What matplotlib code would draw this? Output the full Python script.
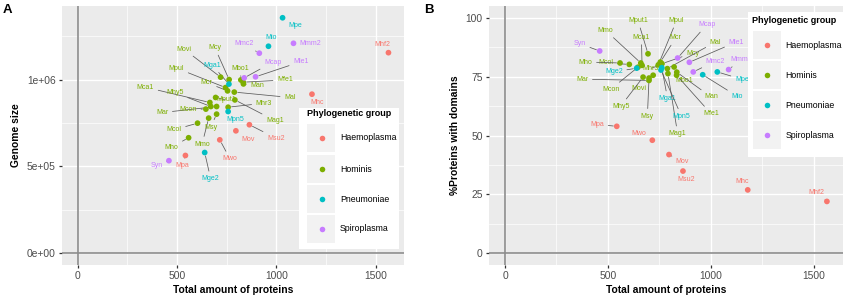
import matplotlib
matplotlib.use("Agg")
import matplotlib.pyplot as plt
from matplotlib.patches import Rectangle
from matplotlib.lines import Line2D

plt.rcParams['font.family'] = ['Liberation Sans', 'DejaVu Sans']

# ---- data -------------------------------------------------------------
names = ["Mhf2", "Mhc", "Msu2", "Mov", "Mwo", "Mpa",
         "Movi", "Mcy", "Mpul", "Mcr", "Mal", "Mbo1", "Mfe1", "Man", "Mput1",
         "Mag1", "Mca1", "Mhy5", "Mar", "Mcon", "Mhr3", "Mmo", "Msy", "Mcol", "Mho",
         "Mpe", "Mio", "Mga1", "Mpn5", "Mge2",
         "Mmc2", "Mmm2", "Mcap", "Mle1", "Syn"]
groups = (["Haemoplasma"] * 6 + ["Hominis"] * 19 + ["Pneumoniae"] * 5
          + ["Spiroplasma"] * 5)
proteins = [1565, 1180, 865, 797, 716, 543,
            720, 763, 745, 755, 789, 822, 834, 835, 695,
            792, 666, 671, 700, 646, 758, 660, 700, 604, 559,
            1032, 961, 762, 758, 640,
            915, 1087, 839, 896, 460]
genome_size = [1.155e6, 0.916e6, 0.740e6, 0.705e6, 0.653e6, 0.563e6,
               1.014e6, 1.000e6, 0.954e6, 0.935e6, 0.928e6, 0.998e6, 0.985e6, 0.975e6, 0.897e6,
               0.883e6, 0.868e6, 0.845e6, 0.845e6, 0.830e6, 0.841e6, 0.778e6, 0.801e6, 0.749e6, 0.665e6,
               1.356e6, 1.192e6, 0.974e6, 0.816e6, 0.580e6,
               1.152e6, 1.209e6, 1.010e6, 1.016e6, 0.533e6]
pct_domains = [22.0, 26.9, 34.9, 41.9, 48.0, 53.9,
               75.6, 80.5, 80.0, 81.2, 78.4, 79.1, 75.6, 76.9, 84.7,
               76.3, 79.8, 74.8, 73.4, 79.0, 80.0, 80.8, 74.4, 80.2, 80.8,
               77.0, 75.8, 78.8, 77.8, 78.6,
               77.0, 78.0, 82.9, 81.1, 85.9]

group_names = ["Haemoplasma", "Hominis", "Pneumoniae", "Spiroplasma"]
group_colors = {"Haemoplasma": "#F8766D", "Hominis": "#7CAE00",
                "Pneumoniae": "#00BFC4", "Spiroplasma": "#C77CFF"}

# ---- label layout (repelled label positions, data coords) -------------
lab_a = {"Mhf2": (1534, 1.203e6), "Mhc": (1206, 0.868e6), "Msu2": (998, 0.663e6),
         "Mov": (859, 0.657e6), "Mwo": (767, 0.544e6), "Mpa": (529, 0.504e6),
         "Movi": (535, 1.176e6), "Mcy": (691, 1.184e6), "Mpul": (498, 1.066e6),
         "Mcr": (650, 0.983e6), "Mal": (1069, 0.897e6), "Mbo1": (821, 1.066e6),
         "Mfe1": (1044, 0.998e6), "Man": (904, 0.964e6), "Mput1": (747, 0.883e6),
         "Mag1": (993, 0.764e6), "Mca1": (342, 0.956e6), "Mhy5": (490, 0.925e6),
         "Mar": (426, 0.810e6), "Mcon": (557, 0.830e6), "Mhr3": (938, 0.864e6),
         "Mmo": (627, 0.629e6), "Msy": (670, 0.726e6), "Mcol": (486, 0.711e6),
         "Mho": (473, 0.611e6), "Mpe": (1094, 1.310e6), "Mio": (972, 1.241e6),
         "Mga1": (678, 1.083e6), "Mpn5": (796, 0.768e6), "Mge2": (670, 0.429e6),
         "Mmc2": (837, 1.205e6), "Mmm2": (1173, 1.205e6), "Mcap": (982, 1.100e6),
         "Mle1": (1124, 1.103e6), "Syn": (398, 0.504e6)}
lab_b = {"Mhf2": (1514, 25.7), "Mhc": (1153, 30.6), "Msu2": (883, 31.4),
         "Mov": (863, 38.8), "Mwo": (651, 50.8), "Mpa": (448, 54.7),
         "Movi": (651, 69.9), "Mcy": (912, 85.0), "Mpul": (834, 98.9),
         "Mcr": (830, 91.5), "Mal": (1023, 89.7), "Mbo1": (871, 73.4),
         "Mfe1": (1001, 59.3), "Man": (1001, 66.4), "Mput1": (646, 98.9),
         "Mag1": (839, 50.8), "Mca1": (663, 91.8), "Mhy5": (562, 62.4),
         "Mar": (375, 73.9), "Mcon": (513, 69.6), "Mhr3": (705, 78.4),
         "Mmo": (489, 94.6), "Msy": (692, 58.2), "Mcol": (489, 80.8),
         "Mho": (391, 81.2), "Mpe": (1151, 73.9), "Mio": (1128, 66.7),
         "Mga1": (790, 65.7), "Mpn5": (858, 58.2), "Mge2": (529, 77.0),
         "Mmc2": (1023, 81.6), "Mmm2": (1148, 82.2), "Mcap": (980, 97.0),
         "Mle1": (1124, 89.7), "Syn": (363, 89.0)}

W, H = 846, 304
fig = plt.figure(figsize=(W / 100, H / 100), dpi=100)
fig.patch.set_facecolor("white")


def fx(x):
    return x / W


def fy(y):
    return 1 - y / H


def add_panel(rect_px, yvals, labels, ylim, yticks, yticklabels, yminor, ylabel):
    l, t, r, b = rect_px
    ax = fig.add_axes([fx(l), fy(b), (r - l) / W, (b - t) / H])
    ax.set_facecolor("#EBEBEB")
    for s in ax.spines.values():
        s.set_visible(False)

    xmax = max(proteins)
    ax.set_xlim(-0.05 * xmax, xmax * 1.05)
    ax.set_ylim(*ylim)
    ax.set_xticks([0, 500, 1000, 1500])
    ax.set_xticks([250, 750, 1250], minor=True)
    ax.set_yticks(yticks)
    ax.set_yticklabels(yticklabels)
    ax.set_yticks(yminor, minor=True)
    ax.grid(which="major", color="white", lw=1.0)
    ax.grid(which="minor", color="white", lw=0.5)
    ax.set_axisbelow(True)
    ax.tick_params(which="major", length=2.5, width=0.9, color="#333333",
                   labelsize=7.4, labelcolor="#4D4D4D", pad=2)
    ax.tick_params(which="minor", length=0)

    # reference lines at zero
    ax.axvline(0, color="#8C8C8C", lw=1.2, zorder=1.5)
    ax.axhline(0, color="#8C8C8C", lw=1.2, zorder=1.5)

    for i, name in enumerate(names):
        c = group_colors[groups[i]]
        ax.annotate(name, xy=(proteins[i], yvals[i]), xytext=labels[name],
                    ha="center", va="center", fontsize=5, color=c, zorder=4,
                    arrowprops=dict(arrowstyle="-", color="#5A5A5A", lw=0.55,
                                    shrinkA=1, shrinkB=2.5))
    ax.scatter(proteins, yvals, s=17, c=[group_colors[g] for g in groups],
               zorder=5, linewidths=0)

    ax.set_xlabel("Total amount of proteins", fontsize=7.4, fontweight="bold",
                  labelpad=3)
    ax.set_ylabel(ylabel, fontsize=7.4, fontweight="bold", labelpad=4)
    return ax


add_panel((62, 6, 404, 265), genome_size, lab_a,
          (-0.05 * max(genome_size), 1.05 * max(genome_size)),
          [0, 5e5, 1e6], ["0e+00", "5e+05", "1e+06"], [2.5e5, 7.5e5, 1.25e6],
          "Genome size")
add_panel((489, 6, 843, 265), pct_domains, lab_b, (-5, 105),
          [0, 25, 50, 75, 100], ["0", "25", "50", "75", "100"],
          [12.5, 37.5, 62.5, 87.5], "%Proteins with domains")


def add_legend(box, title_xy, key_x, key_ys, dot_x, text_x):
    x0, y0, x1, y1 = box
    fig.add_artist(Rectangle((fx(x0), fy(y1)), (x1 - x0) / W, (y1 - y0) / H,
                             transform=fig.transFigure, facecolor="white",
                             edgecolor="none", zorder=10))
    fig.text(fx(title_xy[0]), fy(title_xy[1]), "Phylogenetic group",
             fontsize=6.5, fontweight="bold", va="center", ha="left", zorder=11)
    for g, ky in zip(group_names, key_ys):
        fig.add_artist(Rectangle((fx(key_x), fy(ky + 14)), 28 / W, 28 / H,
                                 transform=fig.transFigure, facecolor="#F2F2F2",
                                 edgecolor="none", zorder=11))
        fig.add_artist(Line2D([fx(dot_x)], [fy(ky)], marker="o", markersize=4,
                              color=group_colors[g], markeredgewidth=0,
                              transform=fig.transFigure, zorder=12))
        fig.text(fx(text_x), fy(ky), g, fontsize=6.3, va="center", ha="left",
                 zorder=12)


add_legend((299, 108, 399, 249), (307, 113.5), 307, [138, 169, 199, 228.5],
           321.5, 340)
add_legend((748, 12, 846, 157), (752, 20.5), 753, [45, 75, 105, 135],
           766.5, 785.5)

fig.text(fx(3), fy(10), "A", fontsize=9.5, fontweight="bold", va="center", ha="left")
fig.text(fx(424), fy(10), "B", fontsize=9.5, fontweight="bold", va="center", ha="left")

fig.savefig("out.png", dpi=100)
